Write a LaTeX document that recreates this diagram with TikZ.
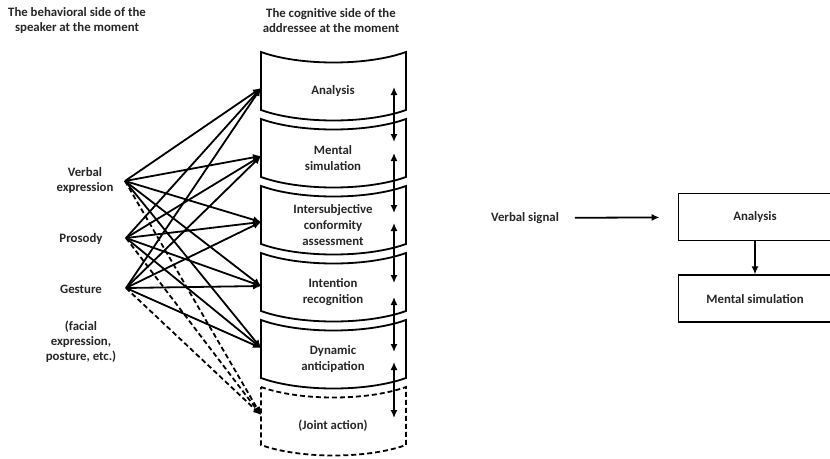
\documentclass[tikz,border=0pt]{standalone}
\usepackage{fontspec}
\setmainfont{Carlito}
\usetikzlibrary{arrows.meta}
\usetikzlibrary{positioning}

\begin{document}
\begin{tikzpicture}[x=1pt,y=-1pt,line width=1.8pt,>={Latex[length=8pt,width=7pt]},
        txt/.style={font=\fontsize{12.8}{15}\selectfont\bfseries,align=center,inner sep=1pt,text=black!85},
        seg/.style={txt,font=\fontsize{12.8}{16}\selectfont\bfseries},
        box/.style={draw,txt,minimum width=153pt,minimum height=47pt},
        dsh/.style={dash pattern=on 5pt off 3pt}]

                \useasboundingbox (0,0) rectangle (830,458);

                \node[txt] (h_0) at (77,21)  {The behavioral side of the\\speaker at the moment};
                \node[txt] (h_1) at (331,21) {The cognitive side of the\\addressee at the moment};

                \draw (261,52) .. controls (300,66) and (367,66) .. (406,52) -- (406,110)
                    .. controls (367,124) and (300,124) .. (261,110) -- cycle;
                \draw (261,119) .. controls (300,133) and (367,133) .. (406,119) -- (406,177)
                    .. controls (367,191) and (300,191) .. (261,177) -- cycle;
                \draw (261,186) .. controls (300,200) and (367,200) .. (406,186) -- (406,244)
                    .. controls (367,258) and (300,258) .. (261,244) -- cycle;
                \draw (261,253) .. controls (300,267) and (367,267) .. (406,253) -- (406,311)
                    .. controls (367,325) and (300,325) .. (261,311) -- cycle;
                \draw (261,320) .. controls (300,334) and (367,334) .. (406,320) -- (406,378)
                    .. controls (367,392) and (300,392) .. (261,378) -- cycle;
                \draw[dsh] (261,387) .. controls (300,401) and (367,401) .. (406,387) -- (406,445)
                    .. controls (367,459) and (300,459) .. (261,445) -- cycle;

                \node[seg] (c_0) at (333,91)  {Analysis};
                \node[seg] (c_1) at (333,158) {Mental\\simulation};
                \node[seg] (c_2) at (333,225) {Intersubjective\\conformity\\assessment};
                \node[seg] (c_3) at (333,292) {Intention\\recognition};
                \node[seg] (c_4) at (333,359) {Dynamic\\anticipation};
                \node[seg] (c_5) at (333,426) {(Joint action)};

                \coordinate (a_0) at (394,87);  \coordinate (b_0) at (394,142);
                \coordinate (a_1) at (394,153); \coordinate (b_1) at (394,213);
                \coordinate (a_2) at (394,223); \coordinate (b_2) at (394,283);
                \coordinate (a_3) at (394,297); \coordinate (b_3) at (394,352);
                \coordinate (a_4) at (394,362); \coordinate (b_4) at (394,418);

                \path[<->, line width=1.4pt]
                    (a_0) edge (b_0)
                    (a_1) edge (b_1)
                    (a_2) edge (b_2)
                    (a_3) edge (b_3)
                    (a_4) edge (b_4);

                \coordinate (s_0) at (125,181);
                \coordinate (s_1) at (126,238);
                \coordinate (s_2) at (126,288);

                \node[txt] (l_0) at (85,181) {Verbal\\expression};
                \node[txt] (l_1) at (81,239) {Prosody};
                \node[txt] (l_2) at (81,289) {Gesture};
                \node[txt] (l_3) [below = 24pt of l_2] {(facial\\expression,\\posture, etc.)};

                \coordinate (t_0) at (261,88);
                \coordinate (t_1) at (261,156);
                \coordinate (t_2) at (261,222);
                \coordinate (t_3) at (261,286);
                \coordinate (t_4) at (261,348);
                \coordinate (t_5) at (261,415);

                \path[->]
                    (s_0) edge (t_0)
                    (s_0) edge (t_1)
                    (s_0) edge (t_2)
                    (s_0) edge (t_3)
                    (s_0) edge (t_4)
                    (s_0) edge[dsh] (t_5)
                    (s_1) edge (t_0)
                    (s_1) edge (t_1)
                    (s_1) edge (t_2)
                    (s_1) edge (t_3)
                    (s_1) edge (t_4)
                    (s_1) edge[dsh] (t_5)
                    (s_2) edge (t_0)
                    (s_2) edge (t_1)
                    (s_2) edge (t_2)
                    (s_2) edge (t_3)
                    (s_2) edge (t_4)
                    (s_2) edge[dsh] (t_5);

                \node[txt] (v_0) at (525,218) {Verbal signal};
                \node[box] (r_0) at (755,217) {Analysis};
                \node[box] (r_1) [below = 33pt of r_0] {Mental simulation};

                \path[->]
                    (v_0) edge[shorten <=14pt, shorten >=18pt] (r_0)
                    (r_0) edge (r_1);

\end{tikzpicture}
\end{document}
